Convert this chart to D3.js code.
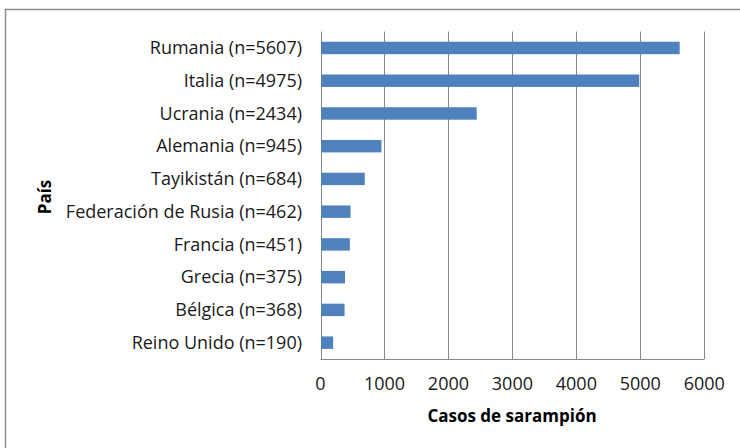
<!doctype html>
<html>
<head>
<meta charset="utf-8">
<style>
  body { margin: 0; background: #fff; }
  svg { display: block; font-family: "Open Sans", sans-serif; }
  .bar { fill: #4f81bd; }
  .grid line { stroke: #868686; stroke-width: 1; }
</style>
<script src="https://d3js.org/d3.v7.min.js"></script>
</head>
<body>
<svg width="740" height="448"></svg>
<script>
var countries = ["Rumania", "Italia", "Ucrania", "Alemania", "Tayikistán",
                 "Federación de Rusia", "Francia", "Grecia", "Bélgica", "Reino Unido"];
var cases = [5607, 4975, 2434, 945, 684, 462, 451, 375, 368, 190];
var xTicks = [0, 1000, 2000, 3000, 4000, 5000, 6000];

var data = countries.map(function(c, i) { return { country: c, value: cases[i], label: c + " (n=" + cases[i] + ")" }; });

var svg = d3.select("svg");

// outer frame
svg.append("rect")
   .attr("x", 5.5).attr("y", 9.5)
   .attr("width", 760).attr("height", 460)
   .attr("fill", "none").attr("stroke", "#8c8c8c").attr("stroke-width", 1.5);

var plotLeft = 320.5, plotRight = 704.3, plotTop = 31.6, plotBottom = 359;

var x = d3.scaleLinear().domain([0, 6000]).range([plotLeft, plotRight]);
var y = d3.scaleBand().domain(data.map(function(d) { return d.label; }))
          .range([plotTop, plotBottom]).paddingInner(0.62).paddingOuter(0.31);

// vertical gridlines
svg.append("g").attr("class", "grid")
   .selectAll("line").data(xTicks).enter().append("line")
   .attr("x1", function(d) { return Math.round(x(d)) + 0.5; })
   .attr("x2", function(d) { return Math.round(x(d)) + 0.5; })
   .attr("y1", plotTop).attr("y2", plotBottom);

// x axis baseline
svg.append("line")
   .attr("x1", x(0)).attr("x2", x(6000))
   .attr("y1", plotBottom + 0.5).attr("y2", plotBottom + 0.5)
   .attr("stroke", "#868686");

svg.selectAll(".bar").data(data).enter().append("rect")
   .attr("class", "bar")
   .attr("x", x(0) + 0.5)
   .attr("y", function(d) { return y(d.label); })
   .attr("width", function(d) { return x(d.value) - x(0); })
   .attr("height", y.bandwidth());

// y labels
svg.append("g").selectAll("text").data(data).enter().append("text")
   .attr("x", 302)
   .attr("y", function(d) { return y(d.label) + y.bandwidth() / 2; })
   .attr("dy", "0.35em")
   .attr("text-anchor", "end")
   .attr("font-size", 18)
   .attr("fill", "#1a1a1a")
   .text(function(d) { return d.label; });

// x tick labels
svg.append("g").selectAll("text").data(xTicks).enter().append("text")
   .attr("x", function(d) { return x(d); })
   .attr("y", 384)
   .attr("dy", "0.35em")
   .attr("text-anchor", "middle")
   .attr("font-size", 18)
   .attr("fill", "#1a1a1a")
   .text(function(d) { return d; });

svg.append("text")
   .attr("x", 512).attr("y", 416).attr("dy", "0.35em")
   .attr("text-anchor", "middle")
   .attr("font-size", 17).attr("font-weight", "bold")
   .attr("fill", "#000")
   .text("Casos de sarampión");

svg.append("text")
   .attr("transform", "translate(45,197) rotate(-90)")
   .attr("dy", "0.35em")
   .attr("text-anchor", "middle")
   .attr("font-size", 17).attr("font-weight", "bold")
   .attr("fill", "#000")
   .text("País");
</script>
</body>
</html>
